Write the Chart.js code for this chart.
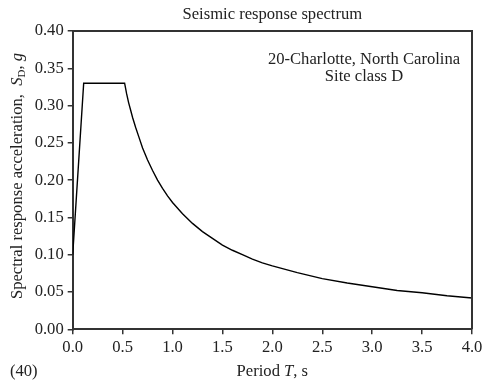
<!DOCTYPE html>
<html>
<head>
<meta charset="utf-8">
<script src="https://cdn.jsdelivr.net/npm/chart.js@4.4.0/dist/chart.umd.min.js"></script>
<style>
  html, body { margin: 0; padding: 0; background: #fff; }
  #wrap { width: 487px; height: 382px; }
</style>
</head>
<body>
<div id="wrap"><canvas id="spectrum" width="487" height="382"></canvas></div>
<script>
// values
const periods = [0, 0.11, 0.52, 0.54, 0.56, 0.58, 0.6, 0.63, 0.66, 0.7, 0.75, 0.8, 0.85, 0.9, 0.95, 1.0, 1.1, 1.2, 1.3, 1.4, 1.5, 1.6, 1.7, 1.8, 1.9, 2.0, 2.25, 2.5, 2.75, 3.0, 3.25, 3.5, 3.75, 4.0];
const accel = [0.10, 0.33, 0.33, 0.316, 0.304, 0.294, 0.284, 0.271, 0.259, 0.243, 0.227, 0.213, 0.200, 0.189, 0.179, 0.170, 0.155, 0.142, 0.131, 0.122, 0.113, 0.106, 0.100, 0.094, 0.089, 0.085, 0.076, 0.068, 0.062, 0.057, 0.052, 0.049, 0.045, 0.042];
const xTicks = [0, 0.5, 1.0, 1.5, 2.0, 2.5, 3.0, 3.5, 4.0];
const yTicks = [0, 0.05, 0.10, 0.15, 0.20, 0.25, 0.30, 0.35, 0.40];

const chartTitle = 'Seismic response spectrum';
const noteLines = ['20-Charlotte, North Carolina', 'Site class D'];
const figNo = '(40)';

const SERIF = '"Liberation Serif", "DejaVu Serif", serif';
const FS = 16.6;
const INK = '#222';
const AXIS = '#333';

// draws a run of [text, style] pieces centered on (0,0) of the current transform
function drawPieces(ctx, pieces) {
    let total = 0;
    pieces.forEach(p => {
        ctx.font = p.font;
        p.w = ctx.measureText(p.text).width;
        total += p.w;
    });
    let x = -total / 2;
    pieces.forEach(p => {
        ctx.font = p.font;
        ctx.fillText(p.text, x, p.dy || 0);
        x += p.w;
    });
}

const textPlugin = {
    id: 'textPlugin',
    afterDraw(chart) {
        const ctx = chart.ctx;
        const a = chart.chartArea;
        ctx.save();
        // frame top + right
        ctx.strokeStyle = AXIS;
        ctx.lineWidth = 2;
        ctx.beginPath();
        ctx.moveTo(a.left, a.top);
        ctx.lineTo(a.right, a.top);
        ctx.lineTo(a.right, a.bottom);
        ctx.stroke();

        ctx.fillStyle = INK;
        ctx.textBaseline = 'middle';
        ctx.textAlign = 'center';
        const cx = (a.left + a.right) / 2;
        ctx.font = FS + 'px ' + SERIF;
        ctx.fillText(chartTitle, cx, 15);
        ctx.fillText(noteLines[0], 364, 60);
        ctx.fillText(noteLines[1], 364, 77);

        ctx.textAlign = 'left';
        ctx.fillText(figNo, 10, 372);

        // x title
        ctx.save();
        ctx.translate(cx, 372);
        drawPieces(ctx, [
            { text: 'Period ', font: FS + 'px ' + SERIF },
            { text: 'T', font: 'italic ' + FS + 'px ' + SERIF },
            { text: ', s', font: FS + 'px ' + SERIF },
        ]);
        ctx.restore();

        // y title
        ctx.save();
        ctx.translate(18, 176);
        ctx.rotate(-Math.PI / 2);
        drawPieces(ctx, [
            { text: 'Spectral response acceleration,  ', font: FS + 'px ' + SERIF },
            { text: 'S', font: 'italic ' + FS + 'px ' + SERIF },
            { text: 'D', font: '11px ' + SERIF, dy: 4 },
            { text: ', ', font: FS + 'px ' + SERIF },
            { text: 'g', font: 'italic ' + FS + 'px ' + SERIF },
        ]);
        ctx.restore();
        ctx.restore();
    }
};

const points = periods.map((t, i) => ({ x: t, y: accel[i] }));

new Chart(document.getElementById('spectrum'), {
    type: 'scatter',
    data: {
        datasets: [{
            data: points,
            showLine: true,
            borderColor: '#000',
            borderWidth: 1.4,
            pointRadius: 0,
            tension: 0,
            fill: false,
        }],
    },
    options: {
        responsive: false,
        animation: false,
        layout: { padding: { top: 31, right: 15, left: 0, bottom: 0 } },
        plugins: {
            legend: { display: false },
            tooltip: { enabled: false },
            title: { display: false },
        },
        scales: {
            x: {
                type: 'linear',
                min: 0,
                max: 4,
                afterFit: s => { s.height = 52.7; },
                afterBuildTicks: s => { s.ticks = xTicks.map(v => ({ value: v })); },
                ticks: {
                    callback: v => v.toFixed(1),
                    font: { family: SERIF, size: FS },
                    color: INK,
                    padding: 3,
                    maxRotation: 0,
                    autoSkip: false,
                },
                grid: { drawOnChartArea: false, drawTicks: true, tickLength: 5, color: AXIS, lineWidth: 1.5 },
                border: { display: true, color: AXIS, width: 2 },
            },
            y: {
                type: 'linear',
                min: 0,
                max: 0.4,
                afterFit: s => { s.width = 72.7; },
                afterBuildTicks: s => { s.ticks = yTicks.map(v => ({ value: v })); },
                ticks: {
                    callback: v => v.toFixed(2),
                    font: { family: SERIF, size: FS },
                    color: INK,
                    padding: 4,
                    autoSkip: false,
                },
                grid: { drawOnChartArea: false, drawTicks: true, tickLength: 5, color: AXIS, lineWidth: 1.5 },
                border: { display: true, color: AXIS, width: 2 },
            },
        },
    },
    plugins: [textPlugin],
});
</script>
</body>
</html>
